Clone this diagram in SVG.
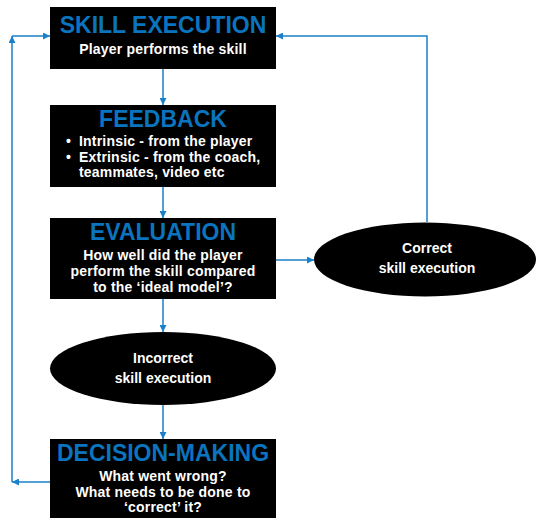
<svg xmlns="http://www.w3.org/2000/svg" width="536" height="518" viewBox="0 0 536 518">
<defs>
<marker id="ah" viewBox="0 0 10 10" refX="10" refY="5" markerWidth="7" markerHeight="7" orient="auto" markerUnits="userSpaceOnUse">
<path d="M0,0 L10,5 L0,10 z" fill="#1a80c9"/>
</marker>
</defs>
<style>
.box{fill:#000}
.title{font-family:"Liberation Sans",Arial,sans-serif;font-weight:bold;font-size:23px;fill:#0a74bf;text-anchor:middle}
.sub{font-family:"Liberation Sans",Arial,sans-serif;font-weight:bold;font-size:14px;fill:#fff;text-anchor:middle;letter-spacing:0.2px}
.bul{font-family:"Liberation Sans",Arial,sans-serif;font-weight:bold;font-size:14px;fill:#fff;letter-spacing:0.2px}
.ell{font-family:"Liberation Sans",Arial,sans-serif;font-weight:bold;font-size:14px;fill:#fff;text-anchor:middle}
.con{fill:none;stroke:#1a80c9;stroke-width:1.5}
</style>
<rect width="536" height="518" fill="#fff"/>
<g id="connectors">
<line class="con" x1="163" y1="69" x2="163" y2="105" marker-end="url(#ah)"/>
<line class="con" x1="163" y1="187" x2="163" y2="218" marker-end="url(#ah)"/>
<line class="con" x1="276" y1="260" x2="314" y2="260" marker-end="url(#ah)"/>
<line class="con" x1="163" y1="299" x2="163" y2="332" marker-end="url(#ah)"/>
<line class="con" x1="163" y1="405" x2="163" y2="439" marker-end="url(#ah)"/>
<polyline class="con" points="427,222 427,36 276,36" marker-end="url(#ah)"/>
<line class="con" x1="50" y1="482" x2="12" y2="482" marker-end="url(#ah)"/>
<line class="con" x1="12" y1="482" x2="12" y2="36" marker-end="url(#ah)"/>
<line class="con" x1="12" y1="36" x2="50" y2="36" marker-end="url(#ah)"/>
</g>
<g id="skill-execution">
<rect class="box" x="50" y="7" width="226" height="62"/>
<text class="title" x="163" y="33">SKILL EXECUTION</text>
<text class="sub" x="163" y="54">Player performs the skill</text>
</g>
<g id="feedback">
<rect class="box" x="50" y="105" width="226" height="82"/>
<text class="title" x="163" y="127">FEEDBACK</text>
<text class="bul" x="66" y="146">•</text>
<text class="bul" x="79" y="146">Intrinsic - from the player</text>
<text class="bul" x="66" y="162">•</text>
<text class="bul" x="79" y="162">Extrinsic - from the coach,</text>
<text class="bul" x="79" y="177">teammates, video etc</text>
</g>
<g id="evaluation">
<rect class="box" x="50" y="218" width="226" height="81"/>
<text class="title" x="163" y="240">EVALUATION</text>
<text class="sub" x="163" y="260">How well did the player</text>
<text class="sub" x="163" y="276">perform the skill compared</text>
<text class="sub" x="163" y="292">to the ‘ideal model’?</text>
</g>
<g id="correct">
<ellipse cx="425" cy="259.5" rx="111" ry="37" fill="#000"/>
<text class="ell" x="427" y="253">Correct</text>
<text class="ell" x="427" y="273">skill execution</text>
</g>
<g id="incorrect">
<ellipse cx="163" cy="368.5" rx="113" ry="36.5" fill="#000"/>
<text class="ell" x="163" y="363">Incorrect</text>
<text class="ell" x="163" y="383">skill execution</text>
</g>
<g id="decision-making">
<rect class="box" x="50" y="439" width="226" height="79"/>
<text class="title" x="163" y="461">DECISION-MAKING</text>
<text class="sub" x="163" y="481">What went wrong?</text>
<text class="sub" x="163" y="497">What needs to be done to</text>
<text class="sub" x="163" y="512">‘correct’ it?</text>
</g>
</svg>
